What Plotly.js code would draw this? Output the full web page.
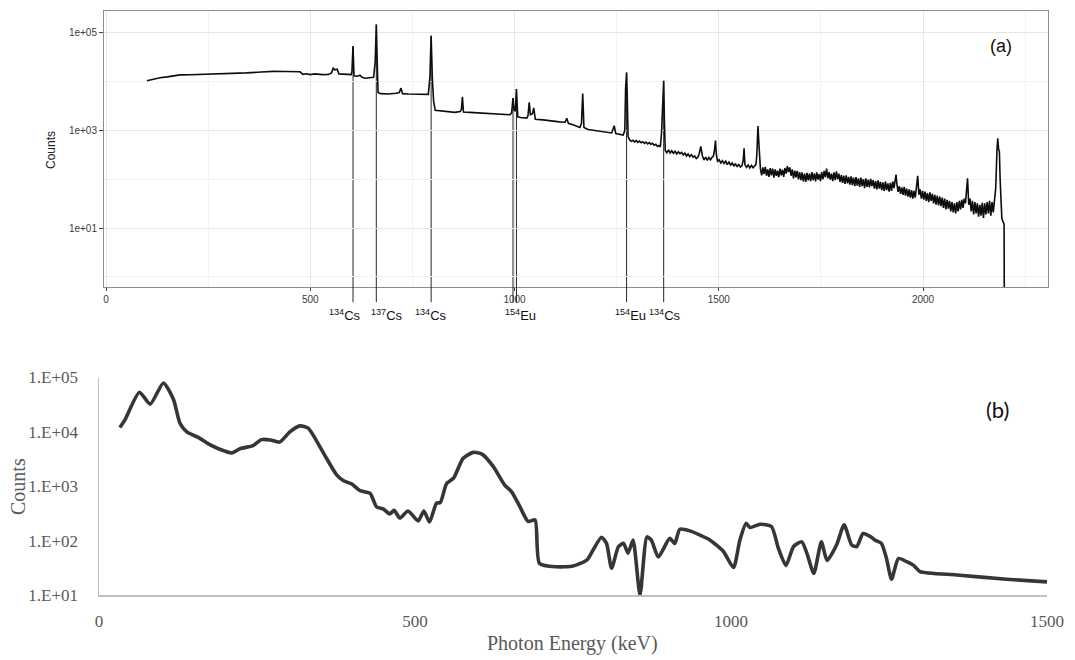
<!DOCTYPE html>
<html>
<head>
<meta charset="utf-8">
<script src="https://cdn.plot.ly/plotly-3.0.1.min.js"></script>
<style>
  html, body { margin: 0; padding: 0; background: #fff; }
  #chart { width: 1075px; height: 660px; }
</style>
</head>
<body>
<div id="chart"></div>
<script>
// ---- (a) measured HPGe spectrum: energy (keV) and counts ----
var specEnergy = [
  100, 110, 120, 132, 150, 165, 181, 206, 240, 286,
  320, 344, 380, 410, 440, 475, 482, 490, 500, 512,
  530, 544, 552, 556, 560, 566, 570, 577, 590, 600,
  602, 604.7, 607, 610, 615, 622, 626, 634, 645, 655,
  659, 661.7, 664, 666, 672, 691, 710, 718, 722, 726,
  740, 760, 789, 793, 795.9, 799, 802, 806, 820, 840,
  854, 867, 870, 872.5, 875, 890, 910, 928, 950, 970,
  989, 993, 996.3, 999, 1002, 1004.8, 1008, 1015, 1030, 1033,
  1036, 1039, 1044, 1047, 1051, 1070, 1091, 1110, 1124, 1128,
  1132, 1145, 1160, 1164, 1167, 1170, 1180, 1200, 1222, 1238,
  1244, 1248, 1266, 1270, 1272, 1274.4, 1276,
  1278, 1282, 1286, 1290, 1294, 1298, 1302, 1306, 1310, 1314,
  1318, 1322, 1326, 1330, 1334, 1338, 1342, 1346, 1350, 1354,
  1357, 1360, 1363, 1365.2, 1367,
  1369, 1373, 1377, 1381, 1385, 1389, 1393, 1397, 1401, 1405,
  1409, 1413, 1417, 1421, 1425, 1429, 1433, 1437, 1441, 1445,
  1449, 1452, 1456, 1460, 1464, 1468, 1472, 1476, 1480, 1484,
  1487, 1490, 1492, 1494, 1497, 1501, 1505, 1509, 1513, 1517,
  1521, 1525, 1529, 1533, 1537, 1541, 1545, 1549, 1553, 1557,
  1560, 1562, 1564, 1568, 1572, 1576, 1580, 1584, 1588, 1591,
  1593, 1596, 1599, 1601,
  1602, 1605, 1608, 1611, 1614, 1617, 1620, 1623, 1626, 1629,
  1632, 1635, 1638, 1641, 1644, 1647, 1650, 1653, 1656, 1659,
  1662, 1665, 1668, 1671, 1674, 1677, 1680, 1683, 1686, 1689,
  1692, 1695, 1698, 1701, 1704, 1707, 1710, 1713, 1716, 1719,
  1722, 1725, 1728, 1731, 1734, 1737, 1740, 1743, 1746, 1749,
  1752, 1755, 1758, 1761, 1764, 1767, 1770, 1773, 1776, 1779,
  1782, 1785, 1788, 1791, 1794, 1797, 1800, 1803, 1806, 1809,
  1812, 1815, 1818, 1821, 1824, 1827, 1830, 1833, 1836, 1839,
  1842, 1845, 1848, 1851, 1854, 1857, 1860, 1863, 1866, 1869,
  1872, 1875, 1878, 1881, 1884, 1887, 1890, 1893, 1896, 1899,
  1902, 1905, 1908, 1911, 1914, 1917, 1920, 1923, 1926, 1929,
  1932, 1934, 1936, 1939, 1942, 1945, 1948, 1951, 1954, 1957,
  1960, 1963, 1966, 1969, 1972, 1975, 1978, 1981, 1984, 1987,
  1990, 1993, 1996, 1999, 2002, 2005, 2008, 2011, 2014, 2017,
  2020, 2023, 2026, 2029, 2032, 2035, 2038, 2041, 2044, 2047,
  2050, 2053, 2056, 2059, 2062, 2065, 2068, 2071, 2074, 2077,
  2080, 2083, 2086, 2089, 2092, 2095, 2098, 2101, 2104, 2107,
  2109, 2112, 2115, 2118, 2121, 2124, 2127, 2130, 2133, 2136,
  2139, 2142, 2145, 2148, 2151, 2154, 2157, 2160, 2163, 2166,
  2169, 2172, 2175, 2178, 2181, 2183, 2185, 2187, 2189, 2191,
  2193, 2195, 2197, 2198.5, 2199
];
var specCounts = [
  10500, 11100, 11500, 12100, 12600, 13000, 13800, 13900, 14100, 14400,
  14800, 15200, 15800, 16300, 16200, 16000, 14200, 14600, 14000, 14500,
  14000, 14100, 15200, 19000, 17500, 18000, 14500, 14500, 14200, 14000,
  16000, 54000, 13200, 13000, 13000, 13600, 12500, 11800, 12200, 12300,
  25000, 150000, 24000, 6000, 5700, 5600, 5800, 6000, 7400, 5700,
  5600, 5600, 5500, 12600, 88000, 11000, 4000, 2600, 2500, 2400,
  2350, 2450, 2700, 4900, 2400, 2350, 2300, 2250, 2200, 2150,
  2100, 2300, 4600, 2600, 2500, 7100, 1900, 1850, 1800, 2000,
  3800, 2100, 2200, 2900, 1700, 1650, 1550, 1500, 1480, 1780,
  1400, 1300, 1150, 1400, 5700, 1150, 1050, 1000, 955, 890,
  1250, 870, 810, 1000, 7400, 15500, 5000,
  750, 640, 600, 630, 580, 625, 570, 605, 560, 590,
  545, 580, 530, 565, 520, 545, 500, 520, 470, 490,
  460, 900, 5900, 10500, 1500,
  390, 350, 400, 345, 385, 340, 375, 330, 365, 335,
  355, 315, 345, 300, 330, 290, 320, 285, 300, 265,
  285, 330, 470, 300, 250, 285, 245, 280, 250, 285,
  300, 420, 620, 330, 235, 250, 215, 240, 210, 235,
  200, 225, 195, 215, 185, 210, 180, 205, 178, 190,
  250, 430, 200, 175, 195, 170, 192, 172, 190, 200,
  300, 1230, 420, 170,
  165, 120, 175, 128, 180, 118, 160, 112, 170, 120,
  165, 108, 160, 118, 150, 110, 165, 120, 158, 112,
  170, 130, 185, 140, 175, 118, 160, 104, 150, 110,
  148, 100, 140, 96, 138, 90, 130, 88, 135, 95,
  130, 92, 140, 96, 132, 90, 138, 98, 128, 92,
  140, 100, 148, 110, 165, 105, 140, 98, 130, 92,
  138, 96, 145, 100, 130, 88, 122, 84, 118, 80,
  120, 82, 112, 78, 115, 76, 108, 72, 110, 74,
  104, 70, 108, 72, 100, 66, 104, 70, 98, 68,
  102, 72, 96, 64, 92, 62, 95, 64, 88, 60,
  86, 58, 90, 60, 82, 56, 84, 58, 90, 66,
  110, 125, 80, 55, 72, 50, 68, 48, 70, 46,
  64, 44, 62, 42, 60, 40, 58, 42, 70, 118,
  48, 62, 40, 58, 38, 56, 36, 52, 34, 54,
  36, 50, 32, 48, 30, 46, 29, 44, 28, 42,
  26, 40, 24, 38, 25, 36, 22, 34, 21, 32,
  20, 34, 22, 36, 24, 38, 26, 40, 32, 60,
  105, 30, 40, 22, 36, 19, 34, 20, 32, 17,
  30, 18, 33, 16, 32, 19, 34, 20, 36, 18,
  34, 21, 36, 65, 380, 690, 420, 370, 90, 35,
  16, 14, 13, 12, 0.4
];

// identified gamma lines: energy, top of marker, label
var lineEnergy = [604.7, 661.7, 795.9, 996.3, 1004.8, 1274.4, 1365.2];
var lineTop = [54000, 150000, 88000, 4600, 7100, 15500, 10500];
var labelEnergy = [604.7, 661.7, 795.9, 1000.5, 1274.4, 1365.2];
var labelText = ['<sup>134</sup>Cs', '<sup>137</sup>Cs', '<sup>134</sup>Cs',
                 '<sup>154</sup>Eu', '<sup>154</sup>Eu', '<sup>134</sup>Cs'];
var labelShift = [-8, 11, 0, 6, 4, 1];

// ---- (b) smoothed spectrum ----
var smoothEnergy = [
  33, 41, 64, 81, 102, 118, 128, 139, 157, 176, 191, 210, 223, 244, 257, 271, 286,
  302, 318, 331, 355, 376, 387, 400, 413, 429, 439, 450, 460, 467, 476, 489, 505,
  514, 523, 534, 540, 550, 561, 576, 592, 606, 624, 642, 653, 666, 679, 690, 697,
  724, 750, 772, 782, 795, 803, 811, 822, 830, 837, 845, 856, 867, 874, 885, 903,
  911, 919, 935, 951, 967, 988, 1004, 1014, 1024, 1030, 1046, 1064, 1075, 1087,
  1099, 1112, 1120, 1131, 1143, 1152, 1167, 1179, 1191, 1199, 1209, 1220, 1228,
  1238, 1246, 1254, 1265, 1278, 1289, 1299, 1357, 1436, 1500
];
var smoothCounts = [
  12000, 16600, 53700, 32400, 79400, 38900, 14500, 10000, 7900, 5750, 4800, 4100, 4900, 5600, 7200, 7100, 6500,
  10000, 12900, 11700, 4100, 1620, 1260, 1100, 830, 740, 420, 380, 310, 360, 260, 350, 230,
  350, 220, 490, 500, 1120, 1410, 3240, 4200, 3900, 2290, 1050, 790, 420, 225, 240, 38,
  33, 34, 44, 68, 115, 89, 31, 78, 89, 59, 102, 10, 117, 102, 50, 110,
  89, 162, 151, 126, 102, 63, 32, 102, 209, 174, 200, 182, 72, 35,
  78, 95, 59, 25, 95, 43, 83, 195, 83, 78, 135, 120, 102,
  89, 47, 19.5, 47, 41, 35, 27, 23.4, 19.5, 17.4
];

// tick labels
var aXTicks = [0, 500, 1000, 1500, 2000];
var aYTicks = [10, 1000, 100000];
var aYText = ['1e+01', '1e+03', '1e+05'];
var bXTicks = [0, 500, 1000, 1500];
var bYTicks = [10, 100, 1000, 10000, 100000];
var bYText = ['1.E+01', '1.E+02', '1.E+03', '1.E+04', '1.E+05'];

var W = 1075, H = 660;
var sans = 'Liberation Sans, Arial, sans-serif';
var serif = 'Liberation Serif, Times New Roman, serif';

var traces = [
  {
    x: specEnergy, y: specCounts, xaxis: 'x', yaxis: 'y',
    type: 'scatter', mode: 'lines',
    line: { color: '#0d0d0d', width: 1.6 },
    hoverinfo: 'x+y'
  },
  {
    x: smoothEnergy, y: smoothCounts, xaxis: 'x2', yaxis: 'y2',
    type: 'scatter', mode: 'lines',
    line: { color: '#363636', width: 3.6, shape: 'spline', smoothing: 0.6 },
    hoverinfo: 'x+y'
  }
];

// marker lines: the part inside the frame and the tail below the axis
var shapes = [];
lineEnergy.forEach(function (e, i) {
  shapes.push({
    type: 'line', xref: 'x', yref: 'y', x0: e, x1: e, y0: 0.1, y1: lineTop[i],
    line: { color: '#262626', width: 1 }, layer: 'below'
  });
  shapes.push({
    type: 'line', xref: 'x', yref: 'y domain', x0: e, x1: e, y0: 0, y1: -0.055,
    line: { color: '#262626', width: 1 }
  });
});

var annotations = [];
labelEnergy.forEach(function (e, i) {
  annotations.push({
    x: e, xref: 'x', y: 1 - 315 / H, yref: 'paper', xshift: labelShift[i],
    text: labelText[i], showarrow: false, xanchor: 'center', yanchor: 'middle',
    font: { family: sans, size: 13, color: '#111111' }
  });
});
annotations.push(
  { x: 1001 / W, y: 1 - 46 / H, xref: 'paper', yref: 'paper', text: '(a)', showarrow: false,
    xanchor: 'center', yanchor: 'middle', font: { family: sans, size: 18, color: '#111111' } },
  { x: 51 / W, y: 1 - 150 / H, xref: 'paper', yref: 'paper', text: 'Counts', showarrow: false,
    textangle: -90, xanchor: 'center', yanchor: 'middle', font: { family: sans, size: 12, color: '#222222' } },
  { x: 997 / W, y: 1 - 409 / H, xref: 'paper', yref: 'paper', text: '(b)', showarrow: false,
    xanchor: 'center', yanchor: 'middle', font: { family: 'Lato, Open Sans, sans-serif', size: 22, color: '#111111' } },
  { x: 18 / W, y: 1 - 487 / H, xref: 'paper', yref: 'paper', text: 'Counts', showarrow: false,
    textangle: -90, xanchor: 'center', yanchor: 'middle', font: { family: serif, size: 20, color: '#595959' } },
  { x: 572 / W, y: 1 - 643 / H, xref: 'paper', yref: 'paper', text: 'Photon Energy (keV)', showarrow: false,
    xanchor: 'center', yanchor: 'middle', font: { family: serif, size: 20, color: '#595959' } }
);

var layout = {
  width: W, height: H,
  margin: { l: 0, r: 0, t: 0, b: 0 },
  paper_bgcolor: '#ffffff', plot_bgcolor: '#ffffff',
  showlegend: false,
  xaxis: {
    domain: [104 / W, 1048 / W], anchor: 'y',
    range: [-4.9, 2306], tickvals: aXTicks, ticktext: aXTicks.map(String),
    showgrid: true, gridcolor: '#e6e6e6', gridwidth: 1,
    minor: { dtick: 250, showgrid: true, gridcolor: '#f2f2f2', gridwidth: 1 },
    ticks: 'outside', ticklen: 3, tickcolor: '#444444',
    showline: true, mirror: true, linecolor: '#8c8c8c', linewidth: 1,
    zeroline: false,
    tickfont: { family: sans, size: 10, color: '#3a3a3a' }
  },
  yaxis: {
    domain: [1 - 287 / H, 1 - 11 / H], anchor: 'x',
    type: 'log', range: [-0.21, 5.451],
    tickvals: aYTicks, ticktext: aYText,
    showgrid: true, gridcolor: '#e6e6e6', gridwidth: 1,
    minor: { tickvals: [1, 100, 10000], showgrid: true, gridcolor: '#f2f2f2', gridwidth: 1 },
    ticks: 'outside', ticklen: 4, tickcolor: '#444444',
    showline: true, mirror: true, linecolor: '#8c8c8c', linewidth: 1,
    zeroline: false,
    tickfont: { family: sans, size: 10, color: '#3a3a3a' }
  },
  xaxis2: {
    domain: [99 / W, 1047 / W], anchor: 'y2',
    range: [0, 1500], tickvals: bXTicks, ticktext: bXTicks.map(String),
    showgrid: false, zeroline: false, ticks: '',
    ticklabelstandoff: 10,
    showline: true, linecolor: '#bfbfbf', linewidth: 1.5,
    tickfont: { family: serif, size: 17, color: '#595959' }
  },
  yaxis2: {
    domain: [1 - 595 / H, 1 - 377.5 / H], anchor: 'x2',
    type: 'log', range: [1, 5],
    tickvals: bYTicks, ticktext: bYText,
    showgrid: false, zeroline: false, ticks: '',
    ticklabelstandoff: 16,
    showline: true, linecolor: '#bfbfbf', linewidth: 1.5,
    tickfont: { family: serif, size: 17, color: '#595959' }
  },
  shapes: shapes,
  annotations: annotations
};

Plotly.newPlot('chart', traces, layout, { displayModeBar: false, staticPlot: true });
</script>
</body>
</html>
